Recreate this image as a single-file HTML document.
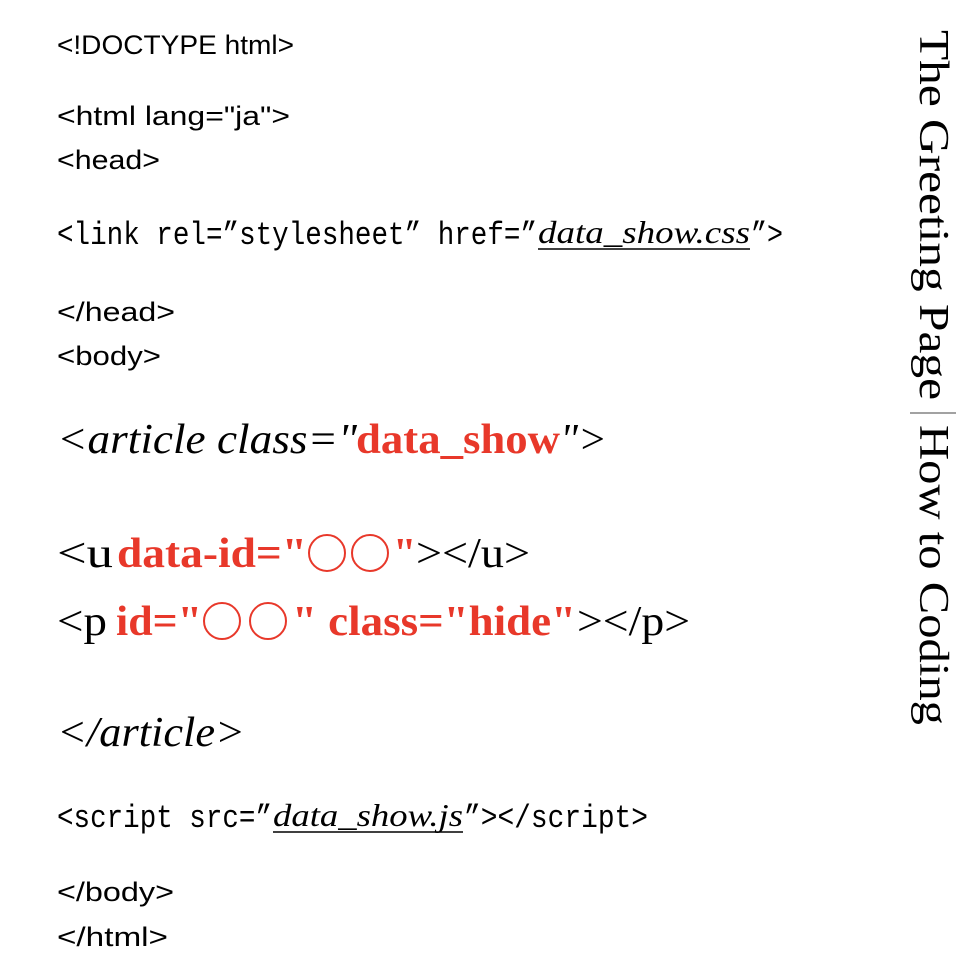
<!DOCTYPE html>
<html><head><meta charset="utf-8"><style>html,body{margin:0;padding:0;background:#fff;width:980px;height:980px;overflow:hidden}</style></head>
<body>
<svg width="980" height="980" xmlns="http://www.w3.org/2000/svg" style="display:block">
<g font-family="Liberation Sans, sans-serif" font-size="27" fill="#000">
<text x="57" y="54" textLength="237" lengthAdjust="spacingAndGlyphs">&lt;!DOCTYPE html&gt;</text>
<text x="57" y="125" textLength="233" lengthAdjust="spacingAndGlyphs">&lt;html lang="ja"&gt;</text>
<text x="57" y="169" textLength="103" lengthAdjust="spacingAndGlyphs">&lt;head&gt;</text>
<text x="57" y="321" textLength="118" lengthAdjust="spacingAndGlyphs">&lt;/head&gt;</text>
<text x="57" y="365" textLength="104" lengthAdjust="spacingAndGlyphs">&lt;body&gt;</text>
<text x="57" y="901" textLength="117" lengthAdjust="spacingAndGlyphs">&lt;/body&gt;</text>
<text x="57" y="946" textLength="111" lengthAdjust="spacingAndGlyphs">&lt;/html&gt;</text>
</g>
<g font-family="Liberation Mono, monospace" font-size="32">
<text x="57" y="244" textLength="480" lengthAdjust="spacingAndGlyphs">&lt;link rel=”stylesheet” href=”</text>
<text x="538" y="243" font-family="Liberation Serif, serif" font-style="italic" font-size="32" textLength="212" lengthAdjust="spacingAndGlyphs">data_show.css</text>
<line x1="538" y1="249" x2="750" y2="249" stroke="#000" stroke-width="1.5"/>
<text x="751" y="244" textLength="32" lengthAdjust="spacingAndGlyphs">”&gt;</text>
<text x="57" y="827" textLength="215" lengthAdjust="spacingAndGlyphs">&lt;script src=”</text>
<text x="273" y="826" font-family="Liberation Serif, serif" font-style="italic" font-size="32" textLength="190" lengthAdjust="spacingAndGlyphs">data_show.js</text>
<line x1="273" y1="832" x2="463" y2="832" stroke="#000" stroke-width="1.5"/>
<text x="464" y="827" textLength="184" lengthAdjust="spacingAndGlyphs">”&gt;&lt;/script&gt;</text>
</g>
<g font-family="Liberation Serif, serif" font-size="42">
<text x="57" y="453" font-style="italic" textLength="300" lengthAdjust="spacingAndGlyphs">&lt;article class="</text>
<text x="356" y="453" fill="#e8382a" font-weight="bold" textLength="204" lengthAdjust="spacingAndGlyphs">data_show</text>
<text x="560" y="453" font-style="italic" textLength="47" lengthAdjust="spacingAndGlyphs">"&gt;</text>
<text x="57" y="567" textLength="56" lengthAdjust="spacingAndGlyphs">&lt;u</text>
<text x="117" y="567" fill="#e8382a" font-weight="bold" textLength="190" lengthAdjust="spacingAndGlyphs">data-id="</text>
<circle cx="327" cy="553" r="18" fill="none" stroke="#e8382a" stroke-width="2"/>
<circle cx="370" cy="553" r="18" fill="none" stroke="#e8382a" stroke-width="2"/>
<text x="393" y="567" fill="#e8382a" font-weight="bold">"</text>
<text x="416" y="567" textLength="114" lengthAdjust="spacingAndGlyphs">&gt;&lt;/u&gt;</text>
<text x="57" y="635" textLength="50" lengthAdjust="spacingAndGlyphs">&lt;p</text>
<text x="116" y="635" fill="#e8382a" font-weight="bold" textLength="86" lengthAdjust="spacingAndGlyphs">id="</text>
<circle cx="222" cy="621" r="18" fill="none" stroke="#e8382a" stroke-width="2"/>
<circle cx="268" cy="621" r="18" fill="none" stroke="#e8382a" stroke-width="2"/>
<text x="292" y="635" fill="#e8382a" font-weight="bold" textLength="284" lengthAdjust="spacingAndGlyphs">" class="hide"</text>
<text x="577" y="635" textLength="113" lengthAdjust="spacingAndGlyphs">&gt;&lt;/p&gt;</text>
<text x="57" y="746" font-style="italic" textLength="188" lengthAdjust="spacingAndGlyphs">&lt;/article&gt;</text>
</g>
<g font-family="Liberation Serif, serif" font-size="42" fill="#000">
<text transform="translate(920,30) rotate(90)" x="0" y="0" textLength="370" lengthAdjust="spacingAndGlyphs">The Greeting Page</text>
<text transform="translate(920,425) rotate(90)" x="0" y="0" textLength="300" lengthAdjust="spacingAndGlyphs">How to Coding</text>
</g>
<line x1="910" y1="413" x2="956" y2="413" stroke="#444" stroke-width="1"/>
</svg>
</body></html>
